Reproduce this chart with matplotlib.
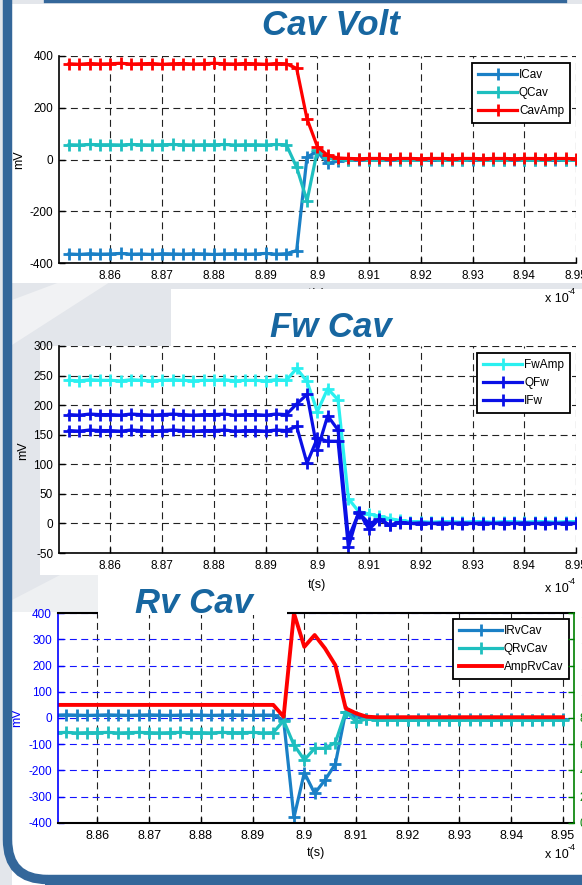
import matplotlib
matplotlib.use('Agg')
import matplotlib.pyplot as plt
from matplotlib.patches import Rectangle, FancyBboxPatch, Polygon
from matplotlib.lines import Line2D
from matplotlib.transforms import IdentityTransform

plt.rcParams['font.family'] = ['Liberation Sans', 'DejaVu Sans']
plt.rcParams['lines.scale_dashes'] = False
plt.rcParams['axes.unicode_minus'] = False

W, H = 582, 885

# ---------------- data ----------------
t = [8.852, 8.854, 8.856, 8.858, 8.860, 8.862, 8.864, 8.866, 8.868, 8.870,
     8.872, 8.874, 8.876, 8.878, 8.880, 8.882, 8.884, 8.886, 8.888, 8.890,
     8.892, 8.894, 8.896, 8.898, 8.900, 8.902, 8.904, 8.906, 8.908, 8.910,
     8.912, 8.914, 8.916, 8.918, 8.920, 8.922, 8.924, 8.926, 8.928, 8.930,
     8.932, 8.934, 8.936, 8.938, 8.940, 8.942, 8.944, 8.946, 8.948, 8.950]

x_ticks = [8.86, 8.87, 8.88, 8.89, 8.90, 8.91, 8.92, 8.93, 8.94, 8.95]
x_ticklabels = ['8.86', '8.87', '8.88', '8.89', '8.9', '8.91', '8.92', '8.93', '8.94', '8.95']

# Cav Volt
i_cav = [-365, -367, -364, -366, -365, -363, -366, -365, -367, -364, -365, -366, -364, -365, -367, -365,
         -364, -366, -365, -363, -366, -364,
         -352, 10, 30, -15, -6,
         -3, -2, -2, -1, -2, -2, -1, -2, -2, -1, -2, -2, -1, -2, -2, -1, -2, -2, -1, -2, -2, -1, -2]
q_cav = [57, 56, 58, 57, 57, 56, 58, 57, 56, 57, 58, 57, 56, 57, 57, 58, 56, 57, 57, 56, 58, 57,
         -30, -160, 36, 4, 1,
         0, 1, 0, 0, 1, 0, 0, 0, 1, 0, 0, 0, 1, 0, 0, 0, 1, 0, 0, 0, 1, 0, 0]
cav_amp = [370, 368, 371, 369, 370, 372, 369, 370, 371, 368, 370, 371, 369, 370, 372, 370, 369, 371,
           370, 368, 371, 370,
           352, 157, 50, 16, 6,
           4, 3, 4, 4, 3, 4, 4, 3, 4, 4, 3, 4, 4, 3, 4, 4, 3, 4, 4, 3, 4, 4, 3]

# Fw Cav
fw_amp = [242, 241, 243, 242, 242, 241, 243, 242, 241, 242, 243, 242, 241, 242, 242, 243, 241, 242,
          242, 241, 243, 242,
          262, 240, 189, 228, 209, 42, 20, 16, 12, 8, 5,
          3, 3, 2, 3, 3, 2, 3, 3, 2, 3, 3, 2, 3, 3, 2, 3, 3]
q_fw = [184, 183, 185, 184, 184, 183, 185, 184, 183, 184, 185, 184, 183, 184, 184, 185, 183, 184,
        184, 183, 185, 184,
        202, 218, 124, 182, 158, -25, 18, 0, 6, -3, 2,
        0, 1, 0, -1, 0, 1, 0, -1, 0, 1, 0, -1, 0, 1, 0, -1, 0]
i_fw = [157, 156, 158, 157, 157, 156, 158, 157, 156, 157, 158, 157, 156, 157, 157, 158, 156, 157,
        157, 156, 158, 157,
        164, 102, 144, 139, 139, -40, 20, -10, 8, -3, 1,
        0, -1, 0, 1, 0, -1, 0, 1, 0, -1, 0, 1, 0, -1, 0, 1, 0]

# Rv Cav
i_rv = [11, 12, 11, 10, 11, 12, 11, 10, 11, 12, 11, 10, 11, 12, 11, 10, 11, 12, 11, 10, 11, 11,
        -8, -380, -209, -288, -237, -176, 24, 5, -3,
        -5, -4, -5, -6, -5, -4, -5, -6, -5, -4, -5, -6, -5, -4, -5, -6, -5, -4, -5]
q_rv = [-56, -55, -57, -56, -56, -55, -57, -56, -55, -56, -57, -56, -55, -56, -56, -57, -55, -56,
        -56, -55, -57, -56,
        -10, -103, -160, -116, -116, -94, 24, -14, -4,
        -8, -7, -8, -9, -8, -7, -8, -9, -8, -7, -8, -9, -8, -7, -8, -9, -8, -7, -8]
amp_rv = [50, 50, 50, 50, 50, 50, 50, 50, 50, 50, 50, 50, 50, 50, 50, 50, 50, 50, 50, 50, 50, 50,
          5, 400, 272, 317, 266, 202, 37, 18, 5,
          3, 3, 3, 3, 3, 3, 3, 3, 3, 3, 3, 3, 3, 3, 3, 3, 3, 3, 3]

# ---------------- figure ----------------
fig = plt.figure(figsize=(5.82, 8.85), dpi=100)
fig.patch.set_facecolor('#e3e6eb')


def fx(px):
    return px / W


def fy(py):
    return 1 - py / H


def rect(x0, y0, x1, y1, color, z):
    fig.patches.append(Rectangle((fx(x0), fy(y1)), (x1 - x0) / W, (y1 - y0) / H,
                                 transform=fig.transFigure, facecolor=color,
                                 edgecolor='none', zorder=z))


# lighter diagonal bands of the slide background
fig.patches.append(Polygon([(fx(12), fy(345)), (fx(12), fy(300)), (fx(60), fy(282)),
                            (fx(110), fy(282))], closed=True, transform=fig.transFigure,
                           facecolor='#f1f2f4', edgecolor='none', zorder=-6))
fig.patches.append(Polygon([(fx(12), fy(640)), (fx(12), fy(600)), (fx(60), fy(575)),
                            (fx(98), fy(575)), (fx(98), fy(612))], closed=True,
                           transform=fig.transFigure, facecolor='#eef0f2', edgecolor='none', zorder=-6))

# white picture areas
rect(12, 4, 582, 283, 'white', -5)        # panel 1 picture
rect(40, 346, 582, 575, 'white', -5)      # panel 2 picture
rect(287, 575, 582, 612, 'white', -5)
rect(12, 612, 582, 885, 'white', -5)      # panel 3 picture

lw = 2.3
mk = dict(marker='+', ms=8, mew=2)
grid_ls = (0, (5, 3.2))


def style(ax, xlim, ylim, yticks):
    ax.set_xlim(xlim)
    ax.set_ylim(ylim)
    ax.set_xticks(x_ticks)
    ax.set_xticklabels(x_ticklabels)
    ax.set_yticks(yticks)
    ax.tick_params(direction='in', length=4, width=1, labelsize=8.5, pad=4)
    ax.tick_params(axis='x', pad=5)
    for s in ['left', 'bottom']:
        ax.spines[s].set_linewidth(1.2)
    for s in ['top', 'right']:
        ax.spines[s].set_visible(False)


# ---- Panel 1: Cav Volt ----
ax1 = fig.add_axes([fx(58.7), fy(263), fx(576) - fx(58.7), fy(56) - fy(263)])
ax1.set_zorder(1)
ax1.plot(t, i_cav, color='#1a80c6', lw=lw, label='ICav', **mk)
ax1.plot(t, q_cav, color='#1ebfbf', lw=lw, label='QCav', **mk)
ax1.plot(t, cav_amp, color='#ff0000', lw=lw, label='CavAmp', **mk)
style(ax1, (8.85, 8.95), (-400, 400), [-400, -200, 0, 200, 400])
ax1.grid(True, color='#222222', ls=grid_ls, lw=0.8)
ax1.set_xlabel('t(s)', fontsize=9, labelpad=4)
leg1 = ax1.legend(loc='upper right', bbox_to_anchor=(fx(570), fy(63)), bbox_transform=fig.transFigure,
                  fancybox=False, edgecolor='black', framealpha=1, fontsize=8.5, handlelength=3.3,
                  handletextpad=0.15, borderpad=0.5, labelspacing=0.5, borderaxespad=0, numpoints=1)
leg1.get_frame().set_linewidth(1.3)

# white box behind "Fw Cav" title (covers panel-1 x label)
rect(171, 289, 582, 346, 'white', 1.5)

# ---- Panel 2: Fw Cav ----
ax2 = fig.add_axes([fx(58.7), fy(553), fx(576) - fx(58.7), fy(346) - fy(553)])
ax2.set_zorder(3)
ax2.plot(t, fw_amp, color='#2af0f0', lw=lw, label='FwAmp', **mk)
ax2.plot(t, q_fw, color='#0a10e6', lw=lw, label='QFw', **mk)
ax2.plot(t, i_fw, color='#0a10e6', lw=lw, label='IFw', **mk)
style(ax2, (8.85, 8.95), (-50, 300), [-50, 0, 50, 100, 150, 200, 250, 300])
ax2.grid(True, color='#222222', ls=grid_ls, lw=0.8)
ax2.set_xlabel('t(s)', fontsize=9, labelpad=5)
leg2 = ax2.legend(loc='upper right', bbox_to_anchor=(fx(570), fy(353)), bbox_transform=fig.transFigure,
                  fancybox=False, edgecolor='black', framealpha=1, fontsize=8.5, handlelength=3.3,
                  handletextpad=0.15, borderpad=0.5, labelspacing=0.5, borderaxespad=0, numpoints=1)
leg2.get_frame().set_linewidth(1.3)

# ---- Panel 3: Rv Cav ----
ax3 = fig.add_axes([fx(57.6), fy(822.7), fx(574.3) - fx(57.6), fy(613.3) - fy(822.7)])
ax3.set_zorder(5)
ax3.plot(t, i_rv, color='#1a80c6', lw=lw, label='IRvCav', **mk)
ax3.plot(t, q_rv, color='#1ebfbf', lw=lw, label='QRvCav', **mk)
ax3.plot(t, amp_rv, color='#ff0000', lw=2.8, label='AmpRvCav')
ax3.set_xlim(8.8523, 8.9522)
ax3.set_ylim(-400, 400)
ax3.set_xticks(x_ticks)
ax3.set_xticklabels(x_ticklabels)
ax3.set_yticks(range(-400, 401, 100))
ax3.tick_params(direction='in', length=4, width=1, labelsize=9, pad=4)
ax3.tick_params(axis='y', colors='#0000ff', labelsize=8.5)
ax3.tick_params(axis='x', pad=5)
ax3.spines['left'].set_color('#0000ff')
ax3.spines['left'].set_linewidth(1.2)
ax3.spines['bottom'].set_linewidth(1.5)
ax3.spines['top'].set_linewidth(1.5)
ax3.spines['right'].set_visible(False)
ax3.xaxis.grid(True, color='#222222', ls=grid_ls, lw=0.8)
ax3.yaxis.grid(True, color='#1414ff', ls=grid_ls, lw=0.8)
ax3.set_xlabel('t(s)', fontsize=9, labelpad=4)
leg3 = ax3.legend(loc='upper right', bbox_to_anchor=(fx(569), fy(619)), bbox_transform=fig.transFigure,
                  fancybox=False, edgecolor='black', framealpha=1, fontsize=8.5, handlelength=3.6,
                  handletextpad=0.15, borderpad=0.5, labelspacing=0.5, borderaxespad=0, numpoints=1)
leg3.get_frame().set_linewidth(1.3)

ax3r = ax3.twinx()
ax3r.set_ylim(0, 16)
ax3r.set_yticks(range(0, 17, 2))
ax3r.tick_params(direction='in', length=4, width=1, colors='#008000', labelsize=8.5, pad=4)
for s in ['left', 'top', 'bottom']:
    ax3r.spines[s].set_visible(False)
ax3r.spines['right'].set_color('#008000')
ax3r.spines['right'].set_linewidth(1.2)

# white box behind "Rv Cav" title (covers the top edge of panel 3 there)
rect(98, 575, 287, 614.8, 'white', 8)

# ---- texts ----
title_color = '#1766a0'
fig.text(fx(331), fy(35), 'Cav Volt', fontsize=25, fontweight='bold', style='italic',
         color=title_color, ha='center', va='baseline', zorder=20)
fig.text(fx(331), fy(337), 'Fw Cav', fontsize=25, fontweight='bold', style='italic',
         color=title_color, ha='center', va='baseline', zorder=20)
fig.text(fx(194), fy(613), 'Rv Cav', fontsize=25, fontweight='bold', style='italic',
         color=title_color, ha='center', va='baseline', zorder=20)

for (xx, yy, c) in [(19, 160, 'black'), (23, 451, 'black'), (17, 718, '#0000ff')]:
    fig.text(fx(xx), fy(yy), 'mV', fontsize=9, rotation=90, ha='center', va='center', color=c, zorder=20)

for yy in [299, 589, 855]:
    fig.text(fx(545), fy(yy), 'x 10', fontsize=9, ha='left', va='center', zorder=20)
    fig.text(fx(568), fy(yy - 7), '-4', fontsize=6.5, ha='left', va='center', zorder=20)

# ---- slide frame ----
frame = FancyBboxPatch((7.5, 5.5), 700, 1000, boxstyle='round,pad=0,rounding_size=40',
                       transform=IdentityTransform(), facecolor='none', edgecolor='#34679a',
                       linewidth=6.8, zorder=30)
fig.patches.append(frame)
fig.patches.append(Rectangle((45, 0), 600, 6, transform=IdentityTransform(),
                             facecolor='#34679a', edgecolor='none', zorder=30))
fig.lines.append(Line2D([45, 565], [884, 884], transform=IdentityTransform(),
                        color='#34679a', lw=2.4, zorder=30))

fig.savefig('out.png', dpi=100, facecolor=fig.get_facecolor())
